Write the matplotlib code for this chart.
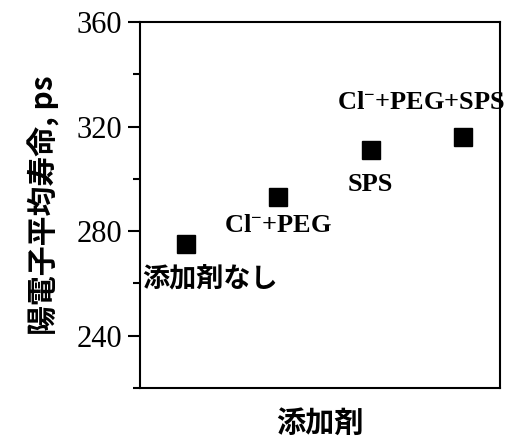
import matplotlib
matplotlib.use('Agg')
import matplotlib.pyplot as plt
from matplotlib.ticker import MultipleLocator

plt.rcParams['font.family'] = ['Liberation Serif', 'Noto Sans CJK JP']
plt.rcParams['mathtext.fontset'] = 'custom'
plt.rcParams['mathtext.rm'] = 'Liberation Serif:bold'
plt.rcParams['mathtext.it'] = 'Liberation Serif:bold'

# additive conditions and mean positron lifetime (ps)
labels = ['添加剤なし', 'Cl$^{-}$+PEG', 'SPS', 'Cl$^{-}$+PEG+SPS']
lifetime = [275, 293, 311, 316]
xpos = [1, 2, 3, 4]

JP = ['Noto Sans CJK JP', 'DejaVu Sans']

fig = plt.figure(figsize=(5.07, 4.38), dpi=100)
ax = fig.add_axes([0.276, 0.114, 0.71, 0.836])

ax.plot(xpos, lifetime, 's', color='black', ms=12.5, ls='none')

# label placement (dx, dy in data units) relative to each point
offs = [(0.26, -13.5), (0.0, -11), (0.0, -13), (-0.45, 13)]
for x, y, lab, (dx, dy) in zip(xpos, lifetime, labels, offs):
    if lab.startswith('添'):
        ax.text(x + dx, y + dy, lab, ha='center', va='center', fontsize=19.5,
                family=JP, fontweight='bold')
    else:
        ax.text(x + dx, y + dy, lab, ha='center', va='center', fontsize=19,
                fontweight='bold')

ax.set_xlim(0.5, 4.4)
ax.set_ylim(220, 360)
ax.yaxis.set_major_locator(MultipleLocator(40))
ax.yaxis.set_minor_locator(MultipleLocator(20))
ax.set_yticks([240, 280, 320, 360])
ax.set_xticks([])
ax.tick_params(axis='y', which='major', direction='out', length=9, width=1.5, labelsize=22, pad=4)
ax.tick_params(axis='y', which='minor', direction='out', length=5, width=1.5)
for s in ax.spines.values():
    s.set_linewidth(1.5)

ax.set_ylabel('陽電子平均寿命, ps', family=JP, fontweight='bold', fontsize=21.5, labelpad=12)
ax.set_xlabel('添加剤', family=JP, fontweight='bold', fontsize=21, labelpad=14)

fig.savefig('out.png', dpi=100)
